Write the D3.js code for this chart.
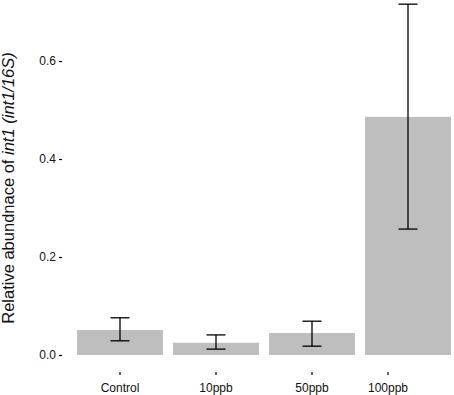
<!DOCTYPE html>
<html>
<head>
<meta charset="utf-8">
<script src="https://cdn.jsdelivr.net/npm/d3@7"></script>
<style>
  body { margin: 0; background: #fff; }
  text { font-family: "Liberation Sans", Arial, sans-serif; }
</style>
</head>
<body>
<div id="container"></div>
<script>
let width = 454,
  height = 395

let categories = ['Control', '10ppb', '50ppb', '100ppb']
let means = [0.051, 0.025, 0.045, 0.486]
let lower = [0.029, 0.012, 0.018, 0.257]
let upper = [0.076, 0.041, 0.069, 0.716]
let yTicks = [0.0, 0.2, 0.4, 0.6]

let xScale = d3.scaleBand().domain(categories).range([72, 456])
  .paddingInner(0.104).paddingOuter(0.052)
let yScale = d3.scaleLinear().domain([0, 0.6]).range([355, 61])

let svg = d3.select('#container')
  .append('svg')
  .attr('width', width)
  .attr('height', height)

// bars
svg.selectAll('rect.bar')
  .data(categories)
  .enter().append('rect')
  .attr('class', 'bar')
  .attr('x', d => xScale(d))
  .attr('width', xScale.bandwidth())
  .attr('y', (d, i) => yScale(means[i]))
  .attr('height', (d, i) => yScale(0) - yScale(means[i]))
  .attr('fill', '#bebebe')

// error bars
let err = svg.selectAll('g.err')
  .data(categories)
  .enter().append('g')
  .attr('class', 'err')
  .attr('stroke', '#000')
  .attr('stroke-width', 1.3)
let cx = d => xScale(d) + xScale.bandwidth() / 2
err.append('line')
  .attr('x1', cx).attr('x2', cx)
  .attr('y1', (d, i) => yScale(upper[i]))
  .attr('y2', (d, i) => yScale(lower[i]))
err.append('line')
  .attr('x1', d => cx(d) - 9.5).attr('x2', d => cx(d) + 9.5)
  .attr('y1', (d, i) => yScale(upper[i]))
  .attr('y2', (d, i) => yScale(upper[i]))
err.append('line')
  .attr('x1', d => cx(d) - 9.5).attr('x2', d => cx(d) + 9.5)
  .attr('y1', (d, i) => yScale(lower[i]))
  .attr('y2', (d, i) => yScale(lower[i]))

// y axis
let yAxis = d3.axisLeft(yScale).tickValues(yTicks).tickFormat(d3.format('.1f'))
  .tickSize(3).tickPadding(3)
let gy = svg.append('g')
  .attr('transform', 'translate(62, 0)')
  .call(yAxis)
gy.select('.domain').remove()
gy.selectAll('.tick line').attr('stroke', '#000').attr('stroke-width', 1.2)
gy.selectAll('.tick text').attr('font-size', 12).attr('fill', '#111')
  .attr('font-family', '"Liberation Sans", Arial, sans-serif')

// x axis
let xAxis = d3.axisBottom(xScale).tickSize(3).tickPadding(8)
let gx = svg.append('g')
  .attr('transform', 'translate(0, 372)')
  .call(xAxis)
gx.select('.domain').remove()
gx.selectAll('.tick line').attr('stroke', '#000').attr('stroke-width', 1.2)
gx.selectAll('.tick text').attr('font-size', 12).attr('fill', '#111')
  .attr('font-family', '"Liberation Sans", Arial, sans-serif')
// last label/tick sits left of its bar in the original
gx.selectAll('.tick').filter(d => d === '100ppb')
  .attr('transform', d => 'translate(' + (cx(d) - 20) + ',0)')

// y title
let title = svg.append('text')
  .attr('transform', 'translate(14, 188) rotate(-90)')
  .attr('text-anchor', 'middle')
  .attr('font-size', 16.5)
  .attr('fill', '#111')
title.append('tspan').text('Relative abundnace of ')
title.append('tspan').attr('font-style', 'italic').text('int1 (int1/16S)')
</script>
</body>
</html>
